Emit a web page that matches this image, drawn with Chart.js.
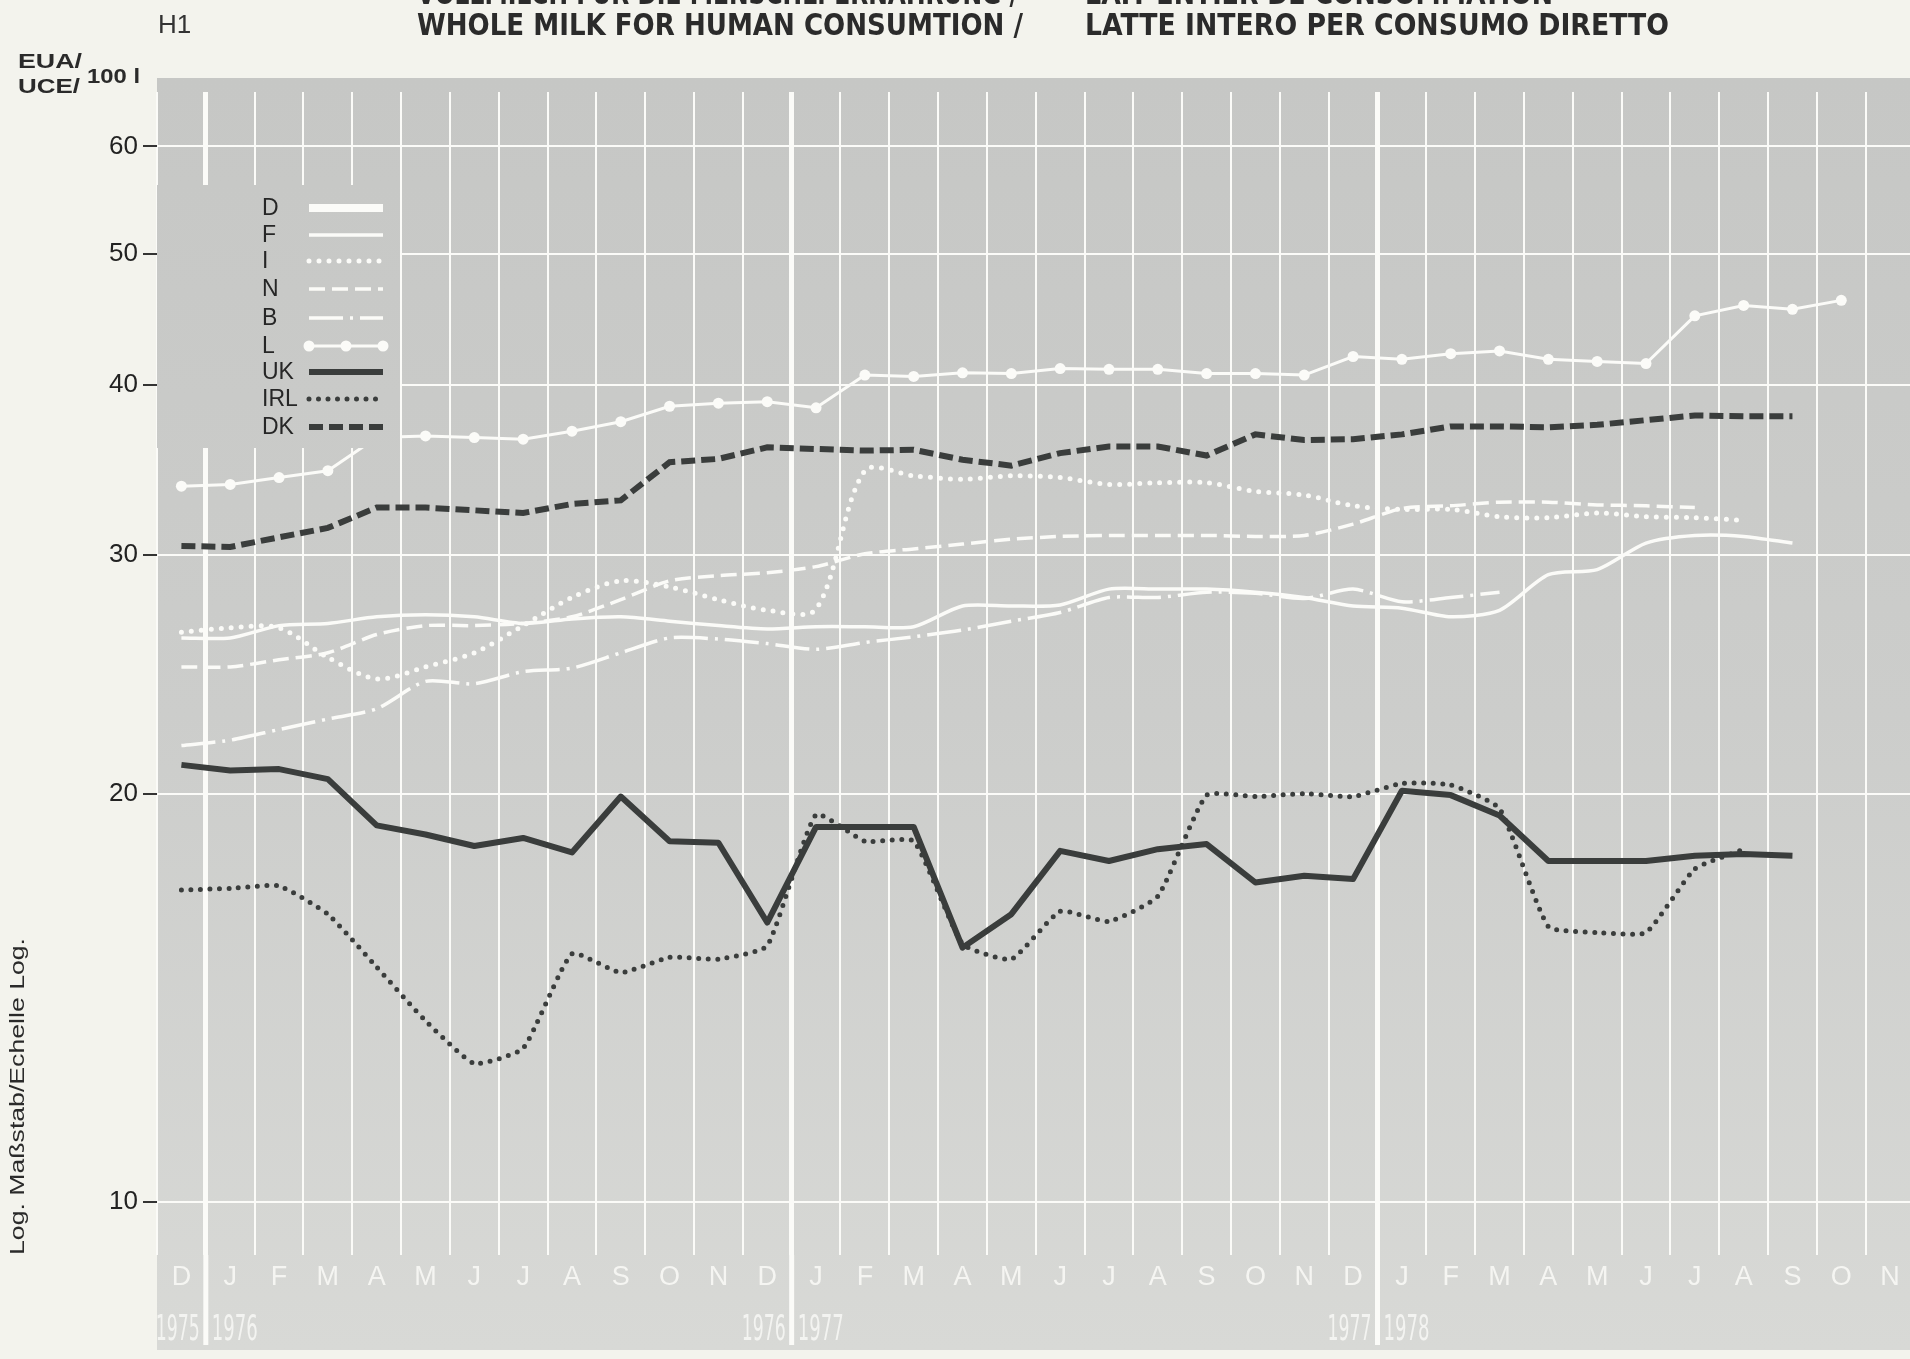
<!DOCTYPE html>
<html>
<head>
<meta charset="utf-8">
<title>Whole milk for human consumption</title>
<script src="https://cdn.jsdelivr.net/npm/chart.js@4.4.0/dist/chart.umd.min.js"></script>
<style>
  html, body { margin: 0; padding: 0; overflow: hidden; background: #f3f3ed; }
  #wrap { position: absolute; left: 0; top: 0; width: 1920px; height: 1359px; }
</style>
</head>
<body>
<div id="wrap"><canvas id="chart" width="1920" height="1359"></canvas></div>
<script>
// months Dec 1975 .. Nov 1978
const months = ["D","J","F","M","A","M","J","J","A","S","O","N",
                "D","J","F","M","A","M","J","J","A","S","O","N",
                "D","J","F","M","A","M","J","J","A","S","O","N"];
const yearBreaks = [1, 13, 25];
const yearLabels = [["1975", "1976"], ["1976", "1977"], ["1977", "1978"]];
const yTicks = [10, 20, 30, 40, 50, 60];

// EUA / 100 l
const seriesD = new Array(36).fill(null);
const seriesF = [26.05,26.05,26.6,26.7,27.0,27.1,27.0,26.7,26.9,27.0,26.8,26.6,
                 26.45,26.55,26.55,26.55,27.5,27.5,27.55,28.3,28.3,28.3,28.15,27.9,
                 27.5,27.4,27.0,27.3,29.0,29.25,30.6,31.0,30.95,30.6,null,null];
const seriesI = [26.3,26.5,26.5,25.2,24.3,24.8,25.4,26.6,27.9,28.7,28.4,27.8,
                 27.3,27.35,34.6,34.3,34.1,34.3,34.2,33.8,33.9,33.9,33.4,33.2,
                 32.6,32.4,32.4,32.0,31.95,32.2,32.0,31.95,31.8,null,null,null];
const seriesN = [24.8,24.8,25.1,25.4,26.2,26.6,26.6,26.7,27.0,27.8,28.7,28.95,
                 29.1,29.4,30.05,30.3,30.55,30.8,30.95,31.0,31.0,31.0,30.95,31.0,
                 31.6,32.45,32.6,32.8,32.8,32.65,32.6,32.5,null,null,null,null];
const seriesB = [21.7,21.9,22.3,22.7,23.1,24.2,24.1,24.6,24.75,25.4,26.05,26.0,
                 25.8,25.55,25.85,26.1,26.4,26.8,27.2,27.9,27.9,28.15,28.1,27.85,
                 28.3,27.7,27.9,28.15,null,null,null,null,null,null,null,null];
const seriesL = [33.7,33.8,34.2,34.6,36.6,36.7,36.6,36.5,37.0,37.6,38.6,38.8,
                 38.9,38.5,40.7,40.6,40.85,40.8,41.15,41.1,41.1,40.8,40.8,40.7,
                 42.0,41.8,42.2,42.4,41.8,41.65,41.5,45.0,45.8,45.5,46.2,null];
const seriesUK = [21.0,20.8,20.85,20.5,18.95,18.66,18.3,18.55,18.1,19.9,18.45,18.4,
                  16.07,18.9,18.9,18.9,15.4,16.3,18.15,17.84,18.2,18.36,17.2,17.4,
                  17.3,20.1,19.95,19.27,17.84,17.84,17.84,18.0,18.05,18.0,null,null];
const seriesIRL = [16.98,17.03,17.1,16.3,14.9,13.6,12.65,12.98,15.24,14.76,15.15,15.1,
                   15.45,19.3,18.45,18.45,15.5,15.1,16.38,16.1,16.8,19.95,19.9,20.0,
                   19.9,20.35,20.3,19.5,15.96,15.8,15.8,17.6,18.2,null,null,null];
const seriesDK = [30.45,30.4,30.9,31.4,32.5,32.5,32.35,32.2,32.7,32.9,35.1,35.3,
                  36.0,35.9,35.8,35.85,35.25,34.9,35.65,36.05,36.05,35.5,36.8,36.45,
                  36.5,36.8,37.3,37.3,37.25,37.4,37.7,38.0,37.95,37.95,null,null];

const WHITE = "#fbfbf8";
const DARK = "#3a3d3c";
const legendRows = [208, 235, 261, 289, 318, 346, 372, 399, 427];

function fitText(ctx, text, x, y, w, align) {
  const m = ctx.measureText(text).width;
  ctx.save();
  ctx.translate(align === "right" ? x - w : x, y);
  ctx.scale(w / m, 1);
  ctx.textAlign = "left";
  ctx.fillText(text, 0, 0);
  ctx.restore();
}

const paper = {
  id: "paper",
  beforeDraw(chart) {
    const { ctx, chartArea: a } = chart;
    ctx.save();
    ctx.fillStyle = "#f3f3ed";
    ctx.fillRect(0, 0, chart.width, chart.height);
    const g = ctx.createLinearGradient(0, 78, 0, 1350);
    g.addColorStop(0, "#c6c7c5");
    g.addColorStop(0.5, "#cccdcb");
    g.addColorStop(1, "#d8d9d6");
    chart.$bg = g;
    ctx.fillStyle = g;
    ctx.fillRect(a.left, 78, chart.width - a.left, 1350 - 78);

    // headings
    ctx.fillStyle = "#2b2b2b";
    ctx.textBaseline = "alphabetic";
    ctx.font = 'bold 30px "Liberation Sans Narrow", "DejaVu Sans Condensed", "Liberation Sans", sans-serif';
    fitText(ctx, "VOLLMILCH FÜR DIE MENSCHL. ERNÄHRUNG /", 417, 4, 601);
    fitText(ctx, "LAIT ENTIER DE CONSOMMATION", 1085, 4, 468);
    fitText(ctx, "WHOLE MILK FOR HUMAN CONSUMTION /", 417, 35, 606);
    fitText(ctx, "LATTE INTERO PER CONSUMO DIRETTO", 1085, 35, 584);

    ctx.font = '26px "Liberation Sans", Arial, sans-serif';
    ctx.fillStyle = "#333";
    ctx.fillText("H1", 158, 33);

    ctx.font = 'bold 21px "Liberation Sans", Arial, sans-serif';
    ctx.fillStyle = "#2a2a2a";
    fitText(ctx, "EUA/", 18, 68, 64);
    fitText(ctx, "UCE/", 18, 93, 62);
    fitText(ctx, "100 l", 87, 83, 53);

    ctx.save();
    ctx.translate(24, 1255);
    ctx.rotate(-Math.PI / 2);
    ctx.font = '21px "Liberation Sans", Arial, sans-serif';
    fitText(ctx, "Log. Maßstab/Echelle Log.", 0, 0, 317);
    ctx.restore();
    ctx.restore();
  },
  afterDatasetsDraw(chart) {
    const { ctx, chartArea: a } = chart;
    ctx.save();
    ctx.fillStyle = chart.$bg;
    ctx.fillRect(a.left, 185, 400 - a.left, 448 - 185);
    ctx.font = '23px "Liberation Sans", Arial, sans-serif';
    ctx.textBaseline = "middle";
    chart.data.datasets.forEach((ds, i) => {
      const y = legendRows[i];
      ctx.fillStyle = "#262626";
      ctx.fillText(ds.label, 262, y + 1);
      ctx.strokeStyle = ds.borderColor;
      ctx.lineWidth = ds.legendWidth || ds.borderWidth;
      ctx.setLineDash(ds.borderDash || []);
      ctx.lineCap = ds.borderCapStyle || "butt";
      ctx.beginPath();
      ctx.moveTo(309, y);
      ctx.lineTo(383, y);
      ctx.stroke();
      if (ds.pointRadius) {
        ctx.fillStyle = ds.borderColor;
        [309, 346, 383].forEach(px => {
          ctx.beginPath();
          ctx.arc(px, y, ds.pointRadius, 0, Math.PI * 2);
          ctx.fill();
        });
      }
    });
    ctx.restore();
  },
  afterDraw(chart) {
    const { ctx, chartArea: a } = chart;
    const xs = chart.scales.x;
    ctx.save();
    yearBreaks.forEach((b, k) => {
      const x = (xs.getPixelForValue(b - 1) + xs.getPixelForValue(b)) / 2;
      ctx.strokeStyle = WHITE;
      ctx.lineWidth = 5;
      ctx.beginPath();
      ctx.moveTo(x, a.bottom);
      ctx.lineTo(x, 1345);
      ctx.stroke();
      ctx.fillStyle = "rgba(250,250,247,0.8)";
      ctx.font = '36px "Liberation Sans Narrow", "DejaVu Sans Condensed", "Liberation Sans", sans-serif';
      ctx.textBaseline = "alphabetic";
      fitText(ctx, yearLabels[k][0], x - 6, 1340, 44, "right");
      fitText(ctx, yearLabels[k][1], x + 6, 1340, 46);
    });
    ctx.restore();
  }
};

new Chart(document.getElementById("chart"), {
  type: "line",
  data: {
    labels: months,
    datasets: [
      { label: "D", data: seriesD, borderColor: WHITE, borderWidth: 4, legendWidth: 8 },
      { label: "F", data: seriesF, borderColor: WHITE, borderWidth: 3.5, tension: 0.25 },
      { label: "I", data: seriesI, borderColor: WHITE, borderWidth: 5, borderDash: [0, 10],
        borderCapStyle: "round", tension: 0.3 },
      { label: "N", data: seriesN, borderColor: WHITE, borderWidth: 3.5, borderDash: [16, 7], tension: 0.25 },
      { label: "B", data: seriesB, borderColor: WHITE, borderWidth: 3.5, borderDash: [34, 7, 3, 7], tension: 0.25 },
      { label: "L", data: seriesL, borderColor: WHITE, borderWidth: 3, pointRadius: 5.5,
        pointBackgroundColor: WHITE, pointBorderWidth: 0 },
      { label: "UK", data: seriesUK, borderColor: DARK, borderWidth: 6, borderJoinStyle: "round" },
      { label: "IRL", data: seriesIRL, borderColor: DARK, borderWidth: 5, borderDash: [0, 9.5],
        borderCapStyle: "round", tension: 0.15 },
      { label: "DK", data: seriesDK, borderColor: DARK, borderWidth: 6, borderDash: [14, 6] }
    ]
  },
  options: {
    responsive: false,
    animation: false,
    layout: { padding: { top: 92, right: 3, left: 0, bottom: 0 } },
    plugins: { legend: { display: false }, tooltip: { enabled: false } },
    elements: { point: { radius: 0, hoverRadius: 0 }, line: { tension: 0 } },
    scales: {
      x: {
        type: "category",
        offset: true,
        grid: {
          offset: true,
          color: WHITE,
          lineWidth: c => (yearBreaks.includes(c.index) ? 5 : 2),
          drawTicks: false
        },
        border: { display: false },
        ticks: {
          color: "rgba(250,250,247,0.85)",
          font: { family: "Liberation Sans", size: 27 },
          padding: 6,
          autoSkip: false,
          maxRotation: 0
        },
        afterFit: s => { s.height = 104; }
      },
      y: {
        type: "logarithmic",
        min: 9.14,
        max: 65.8,
        afterBuildTicks: s => { s.ticks = yTicks.map(v => ({ value: v })); },
        grid: { color: WHITE, lineWidth: 2, tickColor: "#333", tickLength: 14, tickWidth: 2 },
        border: { display: false },
        ticks: {
          color: "#222",
          font: { family: "Liberation Sans", size: 26 },
          padding: 5,
          callback: v => String(v)
        },
        afterFit: s => { s.width = 157; }
      }
    }
  },
  plugins: [paper]
});
</script>
</body>
</html>
